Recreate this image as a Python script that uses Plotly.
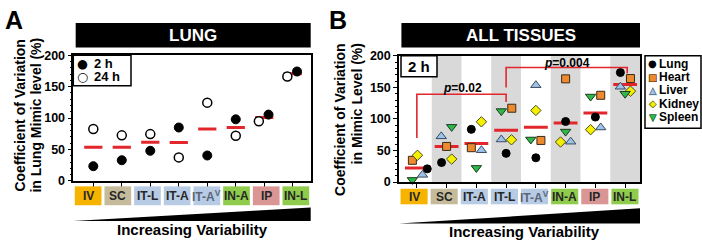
import plotly.graph_objects as go

# ---------------- data ----------------
categories_A = ["IV", "SC", "IT-L", "IT-A", "IT-A<sup>V</sup>", "IN-A", "IP", "IN-L"]
lung_2h = [23.5, 33, 48, 85, 40.5, 98, 105.5, 174]
lung_24h = [82.5, 72.5, 74.5, 37.5, 124.5, 72, 95, 166]
median_A = [53.5, 53.5, 61.5, 61, 82.5, 85, 101, 170.5]

categories_B = ["IV", "SC", "IT-A", "IT-L", "IT-A<sup>V</sup>", "IN-A", "IP", "IN-L"]
lung_B = [21, 31, 83.5, 45.5, 38.5, 96, 103, 173.5]
heart_B = [34.5, 56.5, 54.5, 117, 66, 163.5, 137.5, 164]
liver_B = [11.5, 72.5, 50.5, 67.5, 153.5, 64, 86.5, 151]
kidney_B = [42.5, 36.5, 95.5, 67, 113.5, 63.5, 83, 144]
spleen_B = [3.5, 87.5, 22.5, 112.5, 67.5, 80, 135.5, 140]
median_B = [22.5, 56.5, 61, 82, 87, 93.5, 109.5, 154.5]

y_ticks = [0, 50, 100, 150, 200]

# p-value brackets (category index, y values)
brackets = [
    dict(x0=0, x1=3, y_left=70, y_right=127, top=139, text="<i>p</i>=0.02", tx=1.52, ty=148.5),
    dict(x0=3, x1=7.07, y_left=150, y_right=172.5, top=181.5, text="<i>p</i>=0.004", tx=5.04, ty=188.5),
]

# ---------------- styles ----------------
W, H = 702, 250
FONT = "Liberation Sans, Arial, sans-serif"
RED = "#E3262B"
cat_colors_A = ["#F6B300", "#C5BB9B", "#B8CBE4", "#B8CBE4", "#B8CBE4", "#8FCC4B", "#D99694", "#8FCC4B"]
cat_colors_B = ["#F6B300", "#C5BB9B", "#B8CBE4", "#B8CBE4", "#B8CBE4", "#8FCC4B", "#D99694", "#8FCC4B"]
shade_B = [False, True, False, True, False, True, False, True]

# horizontal jitter of points within a category
dx_2h = [0, 0, 0, 0, 0, 0, 0.15, 0.15]
dx_24h = [0, 0, 0, 0, 0, 0, -0.19, -0.19]
dx_lung = [0.35, -0.17, -0.17, 0, 0, 0, 0, -0.16]
dx_heart = [-0.15, 0, -0.17, 0.19, 0.17, 0, 0.18, 0.18]
dx_liver = [0.19, -0.18, 0.17, -0.16, 0, 0.17, 0.18, -0.16]
dx_kidney = [0.02, 0.17, 0.17, 0.18, 0, -0.17, -0.16, 0.18]
dx_spleen = [-0.15, 0.17, 0, -0.16, -0.17, 0, -0.16, 0]

tissues = [
    ("Lung", lung_B, dx_lung, "circle", "#000000", "#000000", "●", "○"),
    ("Heart", heart_B, dx_heart, "square", "#EE8A2E", "#3a2a1a", "■", "□"),
    ("Liver", liver_B, dx_liver, "triangle-up", "#9EC3E8", "#3b4a60", "▲", "△"),
    ("Kidney", kidney_B, dx_kidney, "diamond", "#F5F000", "#4a4a20", "◆", "◇"),
    ("Spleen", spleen_B, dx_spleen, "triangle-down", "#2DB84A", "#1d3a1d", "▼", "▽"),
]


def px(x):
    return x / W


def py(y):
    return 1 - y / H


def ann(**kw):
    d = dict(showarrow=False, xanchor="center", yanchor="middle")
    d.update(kw)
    return d


fig = go.Figure()

# ---------------- panel A traces ----------------
idx = list(range(len(categories_A)))


def median_xy(meds, hw):
    xs, ys = [], []
    for i, m in enumerate(meds):
        xs += [i - hw, i + hw, None]
        ys += [m, m, None]
    return xs, ys


mx, my = median_xy(median_A, 0.32)
fig.add_trace(go.Scatter(x=mx, y=my, mode="lines", line=dict(color=RED, width=3),
                         xaxis="x", yaxis="y", showlegend=False, hoverinfo="skip"))
fig.add_trace(go.Scatter(x=[i + d for i, d in zip(idx, dx_24h)], y=lung_24h, mode="markers",
                         marker=dict(symbol="circle", size=9, color="white", line=dict(color="black", width=1.5)),
                         xaxis="x", yaxis="y", name="24 h", showlegend=False, cliponaxis=False))
fig.add_trace(go.Scatter(x=[i + d for i, d in zip(idx, dx_2h)], y=lung_2h, mode="markers",
                         marker=dict(symbol="circle", size=9, color="black", line=dict(color="black", width=1)),
                         xaxis="x", yaxis="y", name="2 h", showlegend=False, cliponaxis=False))

# ---------------- panel B traces ----------------
idxB = list(range(len(categories_B)))
mx, my = median_xy(median_B, 0.4)
fig.add_trace(go.Scatter(x=mx, y=my, mode="lines", line=dict(color=RED, width=3),
                         xaxis="x2", yaxis="y2", showlegend=False, hoverinfo="skip"))
for name, vals, dxs, sym, col, lcol, g1, g2 in tissues:
    fig.add_trace(go.Scatter(
        x=[i + d for i, d in zip(idxB, dxs)], y=vals, mode="markers", name=name,
        marker=dict(symbol=sym, size=8 if sym not in ("triangle-up", "triangle-down") else 9,
                    color=col, line=dict(color=lcol, width=1)),
        xaxis="x2", yaxis="y2", showlegend=False, cliponaxis=False))

shapes = []
annotations = []

# gray bands
for i, s in enumerate(shade_B):
    if s:
        shapes.append(dict(type="rect", xref="x2", yref="y2 domain", x0=i - 0.5, x1=i + 0.5, y0=0, y1=1,
                           fillcolor="#D9D9D9", line=dict(width=0), layer="below"))

# brackets
for b in brackets:
    shapes.append(dict(type="path", xref="x2", yref="y2",
                       path=f"M {b['x0']},{b['y_left']} L {b['x0']},{b['top']} L {b['x1']},{b['top']} L {b['x1']},{b['y_right']}",
                       line=dict(color=RED, width=1.6)))
    annotations.append(ann(xref="x2", yref="y2", x=b["tx"], y=b["ty"], text="<b>" + b["text"] + "</b>",
                           font=dict(family=FONT, size=12, color="black")))

# category boxes
for ax, cats, cols, y0, y1 in [("x", categories_A, cat_colors_A, py(210), py(190)),
                                ("x2", categories_B, cat_colors_B, py(209), py(192.5))]:
    n = len(cats)
    for i, (c, col) in enumerate(zip(cats, cols)):
        shapes.append(dict(type="rect", xref=ax + " domain", yref="paper",
                           x0=(i + 0.05) / n, x1=(i + 0.95) / n, y0=y0, y1=y1,
                           fillcolor=col, line=dict(width=0)))
        annotations.append(ann(xref=ax + " domain", yref="paper", x=(i + 0.5) / n, y=(y0 + y1) / 2,
                               text="<b>" + c + "</b>",
                               font=dict(family=FONT, size=12, color="#5a6578" if "sup" in c else "#262626")))

# wedges
for ax, ytop, ybot in [("x", py(212.3), py(226.7)), ("x2", py(213.3), py(229.3))]:
    shapes.append(dict(type="path", xref=ax + " domain", yref="paper",
                       path=f"M 0,{ybot} L 1,{ytop} L 1,{ybot} Z",
                       fillcolor="black", line=dict(width=0)))
annotations.append(ann(xref="x domain", yref="paper", x=0.5, y=py(236), text="<b>Increasing Variability</b>",
                       font=dict(family=FONT, size=15, color="black")))
annotations.append(ann(xref="x2 domain", yref="paper", x=0.52, y=py(238), text="<b>Increasing Variability</b>",
                       font=dict(family=FONT, size=15, color="black")))

# title bars
for ax, txt in [("x", "LUNG"), ("x2", "ALL TISSUES")]:
    shapes.append(dict(type="rect", xref=ax + " domain", yref="paper", x0=0.01, x1=1.0, y0=py(43), y1=py(17),
                       fillcolor="black", line=dict(width=0)))
    annotations.append(ann(xref=ax + " domain", yref="paper", x=0.505, y=py(30), text="<b>" + txt + "</b>",
                           font=dict(family=FONT, size=17, color="white")))

# panel letters
annotations.append(ann(xref="paper", yref="paper", x=px(14), y=py(14), text="<b>A</b>",
                       font=dict(family=FONT, size=25, color="black")))
annotations.append(ann(xref="paper", yref="paper", x=px(338), y=py(14), text="<b>B</b>",
                       font=dict(family=FONT, size=25, color="black")))

# y-axis titles
for x, txt in [(20, "Coefficient of Variation"), (36, "in Lung Mimic level (%)")]:
    annotations.append(ann(xref="paper", yref="paper", x=px(x), y=py(115), text="<b>" + txt + "</b>",
                           textangle=-90, font=dict(family=FONT, size=14, color="black")))
for x, txt in [(340, "Coefficient of Variation"), (357, "in Mimic Level (%)")]:
    annotations.append(ann(xref="paper", yref="paper", x=px(x), y=py(37), yanchor="top",
                           text="<b>" + txt + "</b>",
                           textangle=-90, font=dict(family=FONT, size=14, color="black")))

# legend A
shapes.append(dict(type="rect", xref="paper", yref="paper", x0=px(73.3), x1=px(131), y0=py(83.3), y1=py(51),
                   fillcolor="white", line=dict(color="black", width=1.5)))
for yy, glyph, txt in [(59.5, "●", "2 h"), (74, "○", "24 h")]:
    annotations.append(ann(xref="paper", yref="paper", x=px(82.5), y=py(yy), text=glyph,
                           font=dict(family="DejaVu Sans", size=12.5, color="black")))
    annotations.append(ann(xref="paper", yref="paper", x=px(91.5), y=py(yy), xanchor="left", text="<b>" + txt + "</b>",
                           font=dict(family=FONT, size=13, color="black")))

# "2 h" box B
shapes.append(dict(type="rect", xref="paper", yref="paper", x0=px(401), x1=px(437), y0=py(74), y1=py(51.7),
                   fillcolor="white", line=dict(color="black", width=1.5)))
annotations.append(ann(xref="paper", yref="paper", x=px(419), y=py(63), text="<b>2 h</b>",
                       font=dict(family=FONT, size=15, color="black")))

# legend B
shapes.append(dict(type="rect", xref="paper", yref="paper", x0=px(645), x1=px(701), y0=py(128.5), y1=py(51.7),
                   fillcolor="white", line=dict(color="black", width=1.5)))
rows_y = [60, 74.3, 88.3, 102.7, 116.7]
for (name, vals, dxs, sym, col, lcol, g1, g2), yy in zip(tissues, rows_y):
    annotations.append(ann(xref="paper", yref="paper", x=px(652.5), y=py(yy), text=g1,
                           font=dict(family="DejaVu Sans", size=10, color=col)))
    if name != "Lung":
        annotations.append(ann(xref="paper", yref="paper", x=px(652.5), y=py(yy), text=g2,
                               font=dict(family="DejaVu Sans", size=10, color=lcol)))
    annotations.append(ann(xref="paper", yref="paper", x=px(657), y=py(yy), xanchor="left",
                           text="<b>" + name + "</b>",
                           font=dict(family=FONT, size=12, color="black")))

axis_common = dict(showgrid=False, zeroline=False, linecolor="black", linewidth=1.5, mirror=True,
                   ticks="outside", tickcolor="black", tickwidth=1.2)

fig.update_layout(
    width=W, height=H, margin=dict(l=0, r=0, t=0, b=0),
    paper_bgcolor="white", plot_bgcolor="white", showlegend=False,
    xaxis=dict(domain=[px(73.3), px(310.7)], range=[-0.702, 7.63], tickvals=idx, showticklabels=False,
               ticklen=4, anchor="y", **axis_common),
    yaxis=dict(domain=[py(184.3), py(51)], range=[0, 200], tickvals=y_ticks, ticklen=4, anchor="x",
               tickfont=dict(family=FONT, size=12.5, color="black", weight="bold"),
               minor=dict(dtick=10, ticks="outside", ticklen=2, tickcolor="black"), **axis_common),
    xaxis2=dict(domain=[px(399), px(640)], range=[-0.6, 7.5], tickvals=idxB, showticklabels=False,
                ticklen=4, anchor="y2", **axis_common),
    yaxis2=dict(domain=[py(185.5), py(51.7)], range=[0, 200], tickvals=y_ticks, ticklen=4, anchor="x2",
                tickfont=dict(family=FONT, size=12.5, color="black", weight="bold"),
                minor=dict(dtick=10, ticks="outside", ticklen=2, tickcolor="black"), **axis_common),
    shapes=shapes, annotations=annotations,
)

fig.write_html("out.html", config={"displayModeBar": False},
               post_script="document.body.style.margin='0';document.body.style.overflow='hidden';")
